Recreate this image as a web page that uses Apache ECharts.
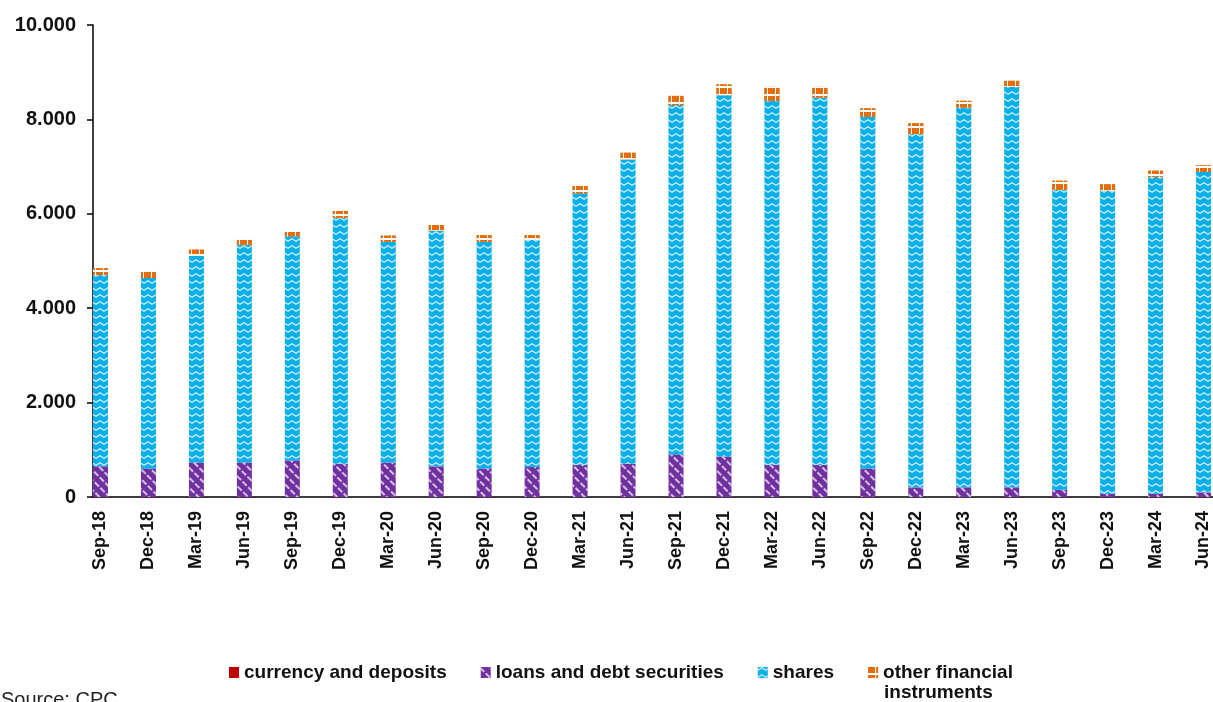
<!DOCTYPE html>
<html>
<head>
<meta charset="utf-8">
<script src="https://cdn.jsdelivr.net/npm/echarts@6/dist/echarts.min.js"></script>
<style>
  html, body { margin: 0; padding: 0; background: #fff; }
  #chart { width: 1213px; height: 702px; }
</style>
</head>
<body>
<div id="chart"></div>
<script>
// quarters on the x axis
var quarters = ['Sep-18', 'Dec-18', 'Mar-19', 'Jun-19', 'Sep-19', 'Dec-19', 'Mar-20', 'Jun-20',
    'Sep-20', 'Dec-20', 'Mar-21', 'Jun-21', 'Sep-21', 'Dec-21', 'Mar-22', 'Jun-22',
    'Sep-22', 'Dec-22', 'Mar-23', 'Jun-23', 'Sep-23', 'Dec-23', 'Mar-24', 'Jun-24'];

// values
var currency = [0, 0, 0, 0, 0, 0, 0, 0, 0, 0, 0, 0, 0, 0, 0, 0, 0, 0, 0, 0, 0, 0, 0, 0];
var loans = [650, 605, 732, 732, 775, 705, 732, 650, 605, 635, 677, 705,
    902, 860, 677, 677, 605, 204, 204, 204, 155, 70, 70, 98];
var shares = [4055, 4035, 4375, 4614, 4749, 5213, 4678, 4993, 4805, 4811, 5757, 6448,
    7401, 7654, 7717, 7789, 7450, 7485, 8050, 8486, 6355, 6419, 6715, 6793];
var other = [141, 128, 133, 142, 133, 141, 127, 120, 135, 99, 154, 140,
    197, 227, 296, 224, 178, 226, 140, 127, 190, 135, 127, 135];

var yTicks = [0, 2000, 4000, 6000, 8000, 10000];

var barW = 15;
var gap = '119.7%';

var myChart = echarts.init(document.getElementById('chart'));

var option = {
    animation: false,
    grid: {
        left: 93,
        right: -31,
        top: 25,
        bottom: 205,
        outerBoundsMode: 'none'
    },
    legend: {
        left: 229,
        top: 663,
        padding: 0,
        itemWidth: 10,
        itemHeight: 11,
        itemGap: 34,
        icon: 'rect',
        data: ['currency and deposits', 'loans and debt securities', 'shares', 'other financial instruments'],
        formatter: function (name) {
            // second line of the last entry is drawn as a separate text below
            return name === 'other financial instruments' ? 'other financial' : name;
        },
        textStyle: {
            fontFamily: 'Liberation Sans',
            fontWeight: 'bold',
            fontSize: 19,
            color: '#111'
        }
    },
    xAxis: {
        type: 'category',
        data: quarters,
        axisLine: {lineStyle: {color: '#000', width: 1.5}},
        axisTick: {length: 6, lineStyle: {color: '#000', width: 1.5}},
        axisLabel: {
            interval: 0,
            rotate: 90,
            margin: 14,
            lineHeight: 33,
            // empty second line moves the label over the bar, which sits left in its slot
            formatter: function (v) { return v + '\n'; },
            fontFamily: 'Liberation Sans',
            fontWeight: 'bold',
            fontSize: 18,
            color: '#111'
        }
    },
    yAxis: {
        type: 'value',
        min: yTicks[0],
        max: yTicks[yTicks.length - 1],
        interval: 2000,
        splitLine: {show: false},
        axisLine: {show: true, lineStyle: {color: '#000', width: 1.5}},
        axisTick: {show: true, length: 6, lineStyle: {color: '#000', width: 1.5}},
        axisLabel: {
            margin: 17,
            fontFamily: 'Liberation Sans',
            fontWeight: 'bold',
            fontSize: 20,
            color: '#111',
            formatter: function (v) {
                return v >= 1000 ? Math.floor(v / 1000) + '.' + ('00' + (v % 1000)).slice(-3) : String(v);
            }
        }
    },
    series: [
        {
            name: 'currency and deposits',
            type: 'bar',
            stack: 'total',
            barWidth: barW,
            barGap: gap,
            data: currency,
            itemStyle: {color: '#C00000'}
        },
        {
            name: 'loans and debt securities',
            type: 'bar',
            stack: 'total',
            barWidth: barW,
            barGap: gap,
            data: loans,
            itemStyle: {
                color: '#7030A0',
                decal: {
                    symbol: 'rect',
                    symbolSize: 1,
                    symbolKeepAspect: false,
                    color: 'rgba(255,255,255,0.7)',
                    dashArrayX: [[6, 2]],
                    dashArrayY: [1.3, 5],
                    rotation: Math.PI / 4
                }
            }
        },
        {
            name: 'shares',
            type: 'bar',
            stack: 'total',
            barWidth: barW,
            barGap: gap,
            data: shares,
            itemStyle: {
                color: '#0AAFEA',
                decal: {
                    symbol: 'path://M0,2.2 L3.75,0 L7.5,2.2 L7.5,3.5 L3.75,1.3 L0,3.5 Z',
                    symbolSize: 1,
                    symbolKeepAspect: false,
                    color: 'rgba(255,255,255,0.8)',
                    dashArrayX: [7.5, 0],
                    dashArrayY: [3.5, 2.3]
                }
            }
        },
        {
            name: 'other financial instruments',
            type: 'bar',
            stack: 'total',
            barWidth: barW,
            barGap: gap,
            data: other,
            itemStyle: {
                color: '#E46C0A',
                decal: {
                    symbol: 'rect',
                    symbolSize: 1,
                    symbolKeepAspect: false,
                    color: '#E46C0A',
                    backgroundColor: '#ffffff',
                    dashArrayX: [6.5, 1],
                    dashArrayY: [6, 1.2]
                }
            }
        },
        {
            // empty second column so the stacks sit at the left of each category
            name: 'pad',
            type: 'bar',
            stack: 'pad',
            barWidth: barW,
            barGap: gap,
            data: []
        }
    ],
    graphic: [
        {
            type: 'text',
            left: 884,
            top: 683,
            style: {
                text: 'instruments',
                font: 'bold 19px "Liberation Sans"',
                fill: '#111'
            }
        },
        {
            type: 'text',
            left: 1,
            top: 690,
            style: {
                text: 'Source: CPC',
                font: '20px "Liberation Sans"',
                fill: '#222'
            }
        }
    ]
};

myChart.setOption(option);
</script>
</body>
</html>
